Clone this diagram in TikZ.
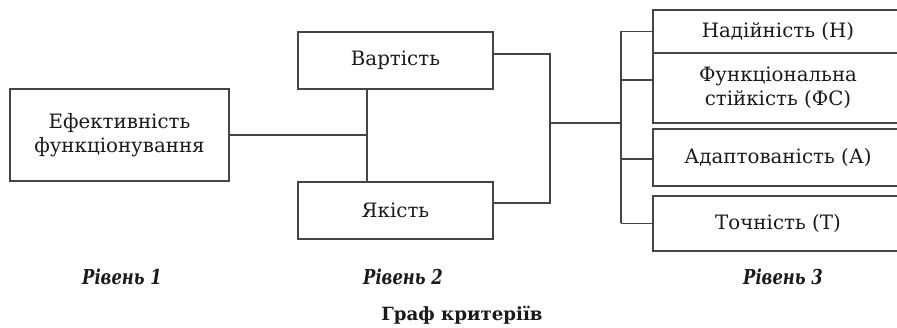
\documentclass[tikz,border=0pt]{standalone}
\usepackage{fontspec}
\setmainfont{DejaVu Serif}
\newfontfamily\lvlfont[FakeStretch=0.8]{DejaVu Serif}
\definecolor{linegray}{HTML}{454545}
\definecolor{inkc}{HTML}{1A1A1A}
\tikzset{
  box/.style={draw=linegray, line width=1.3pt, fill=white, text=inkc,
    align=center, inner sep=2pt, font=\fontsize{19.8}{24}\selectfont},
  conn/.style={draw=linegray, line width=1.3pt},
  lvl/.style={text=inkc, font=\lvlfont\bfseries\itshape\fontsize{20.5}{24}\selectfont},
  titletext/.style={text=inkc, font=\bfseries\fontsize{18.2}{21}\selectfont}
}
\begin{document}
\begin{tikzpicture}[x=1pt,y=-1pt]
\useasboundingbox (0,0) rectangle (897,328);
\clip (0,0) rectangle (897,328);

% level 1
\node[box, minimum width=219pt, minimum height=92pt] (eff) at (119.5,135)
  {Ефективність\\функціонування};

% level 2
\node[box, minimum width=195pt, minimum height=57pt] (vart) at (395.5,60.5) {Вартість};
\node[box, minimum width=195pt, minimum height=57pt] (yak) at (395.5,210.5) {Якість};

% level 3 (boxes run past the right edge)
\node[box, minimum width=250pt, minimum height=43pt] (n1) at (778,31.5) {Надійність (Н)};
\node[box, minimum width=250pt, minimum height=70pt] (n2) at (778,88)
  {Функціональна\\стійкість (ФС)};
\node[box, minimum width=250pt, minimum height=57pt] (n3) at (778,157.5) {Адаптованість (А)};
\node[box, minimum width=250pt, minimum height=55pt] (n4) at (778,223.5) {Точність (Т)};

% junction points
\coordinate (j1) at (367,135);
\coordinate (j2) at (550,123);
\coordinate (j3) at (621,123);

% level 1 -> level 2
\draw[conn] (eff.east) -- (j1);
\draw[conn] (vart.south -| j1) -- (yak.north -| j1);

% level 2 -> level 3
\draw[conn] ([yshift=6.5pt]vart.east) -| ([yshift=7.5pt]yak.east -| j2) -- ([yshift=7.5pt]yak.east);
\draw[conn] (j2) -- (j3);
\draw[conn] (n1.west -| j3) -- (n4.west -| j3);
\draw[conn] (n1.west -| j3) -- (n1.west);
\draw[conn] ([yshift=8pt]n2.west -| j3) -- ([yshift=8pt]n2.west);
\draw[conn] ([yshift=-1.5pt]n3.west -| j3) -- ([yshift=-1.5pt]n3.west);
\draw[conn] (n4.west -| j3) -- (n4.west);

% captions
\node[lvl] (l1) at (122,277) {Рівень 1};
\node[lvl] (l2) at (403,277) {Рівень 2};
\node[lvl] (l3) at (783,277) {Рівень 3};
\node[titletext] (title) at (462,315.5) {Граф критеріїв};
\end{tikzpicture}
\end{document}
